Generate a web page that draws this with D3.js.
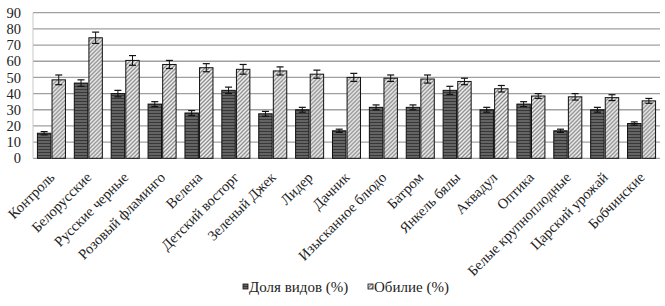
<!DOCTYPE html>
<html>
<head>
<meta charset="utf-8">
<script src="https://cdn.jsdelivr.net/npm/d3@7"></script>
<style>
  body { margin: 0; background: #fff; }
  svg text { font-family: "Liberation Serif", "Times New Roman", serif; fill: #222; }
</style>
</head>
<body>
<div id="chart"></div>
<script>
// categories and series
const categories = ["Контроль", "Белорусские", "Русские черные", "Розовый фламинго", "Велена",
    "Детский восторг", "Зеленый Джек", "Лидер", "Дачник", "Изысканное блюдо", "Батром",
    "Янкель бялы", "Аквадул", "Оптика", "Белые крупноплодные", "Царский урожай", "Бобчинские"]
const shareValues = [15.5, 46.5, 40, 33.5, 28, 42, 27.5, 30, 17, 31.5, 31.5, 42, 30, 33.5, 17, 30, 21.5]
const shareErrors = [1, 2, 2, 1.5, 1.5, 2, 1.5, 1.5, 1, 1.5, 1.5, 2.5, 1.5, 1.5, 1, 1.5, 1]
const abundValues = [48.5, 74.5, 60.5, 58, 56, 55, 54, 52, 50, 49.5, 49, 47.5, 43, 38.5, 38, 37.5, 35.5]
const abundErrors = [3, 3.5, 3, 2.5, 2.5, 3, 2.5, 2.5, 2.5, 2, 2.5, 2, 2, 1.5, 2, 1.8, 1.5]
const seriesNames = ["Доля видов (%)", "Обилие (%)"]
const yTicks = [0, 10, 20, 30, 40, 50, 60, 70, 80, 90]

const width = 665, height = 306
const margin = {top: 12.7, right: 5, bottom: 147.7, left: 33}
const font = "Liberation Serif, Times New Roman, serif"

const svg = d3.select("#chart").append("svg")
    .attr("width", width)
    .attr("height", height)

// patterns for the two fills
const defs = svg.append("defs")
const pDark = defs.append("pattern").attr("id", "pDark")
    .attr("patternUnits", "userSpaceOnUse").attr("width", 4).attr("height", 3)
pDark.append("rect").attr("width", 4).attr("height", 3).attr("fill", "#646464")
pDark.append("rect").attr("y", 2).attr("width", 4).attr("height", 1).attr("fill", "#383838")

const pLight = defs.append("pattern").attr("id", "pLight")
    .attr("patternUnits", "userSpaceOnUse").attr("width", 4).attr("height", 4)
pLight.append("rect").attr("width", 4).attr("height", 4).attr("fill", "#f2f2f2")
pLight.append("path").attr("d", "M0,4 L4,0 M-1,1 L1,-1 M3,5 L5,3")
    .attr("stroke", "#8a8a8a").attr("stroke-width", 1.3)

const fills = ["url(#pDark)", "url(#pLight)"]

const x = d3.scaleBand()
    .domain(categories)
    .range([margin.left, width - margin.right])
    .paddingInner(0.24)
    .paddingOuter(0.12)

const xSub = d3.scaleBand()
    .domain([0, 1])
    .range([0, x.bandwidth()])
    .paddingInner(0.08)

const y = d3.scaleLinear()
    .domain([0, 90])
    .range([height - margin.bottom, margin.top])

// gridlines
svg.append("g")
    .selectAll("line")
    .data(yTicks)
    .join("line")
    .attr("x1", margin.left)
    .attr("x2", width - margin.right)
    .attr("y1", d => y(d))
    .attr("y2", d => y(d))
    .attr("stroke", "#a0a0a0")
    .attr("stroke-width", 1.3)

svg.append("line")
    .attr("x1", margin.left).attr("x2", margin.left)
    .attr("y1", y(90)).attr("y2", y(0))
    .attr("stroke", "#c8c8c8")

// y axis labels
const yAxis = svg.append("g")
    .attr("transform", `translate(${margin.left - 12},0)`)
    .call(d3.axisLeft(y).tickValues(yTicks).tickSize(0).tickPadding(0))
yAxis.attr("font-family", font).attr("font-size", 14.5)
yAxis.select(".domain").remove()
yAxis.selectAll("text")
    .attr("fill", "#222")

// bars
const rows = categories.map((c, i) => ({
    cat: c,
    vals: [
        {s: 0, v: shareValues[i], e: shareErrors[i]},
        {s: 1, v: abundValues[i], e: abundErrors[i]}
    ]
}))

const groups = svg.append("g")
    .selectAll("g")
    .data(rows)
    .join("g")
    .attr("transform", d => `translate(${x(d.cat)},0)`)

groups.selectAll("rect")
    .data(d => d.vals)
    .join("rect")
    .attr("x", d => xSub(d.s))
    .attr("y", d => y(d.v))
    .attr("width", xSub.bandwidth())
    .attr("height", d => y(0) - y(d.v))
    .attr("fill", d => fills[d.s])
    .attr("stroke", "#111")
    .attr("stroke-width", 1)

// error bars
const err = groups.selectAll("g.err")
    .data(d => d.vals)
    .join("g")
    .attr("class", "err")
    .attr("transform", d => `translate(${xSub(d.s) + xSub.bandwidth() / 2},0)`)
err.append("line")
    .attr("y1", d => y(d.v - d.e)).attr("y2", d => y(d.v + d.e))
    .attr("stroke", "#111").attr("stroke-width", 1)
err.append("line")
    .attr("x1", -3.5).attr("x2", 3.5)
    .attr("y1", d => y(d.v + d.e)).attr("y2", d => y(d.v + d.e))
    .attr("stroke", "#111").attr("stroke-width", 1.2)
err.append("line")
    .attr("x1", -3.5).attr("x2", 3.5)
    .attr("y1", d => y(d.v - d.e)).attr("y2", d => y(d.v - d.e))
    .attr("stroke", "#111").attr("stroke-width", 1.2)

// category labels, rotated
svg.append("g")
    .selectAll("text")
    .data(categories)
    .join("text")
    .attr("transform", d => `translate(${x(d) + x.bandwidth() / 2 + 4},${y(0) + 20}) rotate(-45)`)
    .attr("text-anchor", "end")
    .attr("font-family", font)
    .attr("font-size", 14.5)
    .text(d => d)

// legend
const legendItems = [{x: 243, name: seriesNames[0], s: 0}, {x: 368, name: seriesNames[1], s: 1}]
const legend = svg.append("g")
    .selectAll("g")
    .data(legendItems)
    .join("g")
    .attr("transform", d => `translate(${d.x},284)`)
legend.append("rect")
    .attr("width", 5).attr("height", 5)
    .attr("fill", d => fills[d.s])
    .attr("stroke", "#111").attr("stroke-width", 0.8)
legend.append("text")
    .attr("x", 6)
    .attr("y", 8)
    .attr("font-family", font)
    .attr("font-size", 15)
    .text(d => d.name)
</script>
</body>
</html>
